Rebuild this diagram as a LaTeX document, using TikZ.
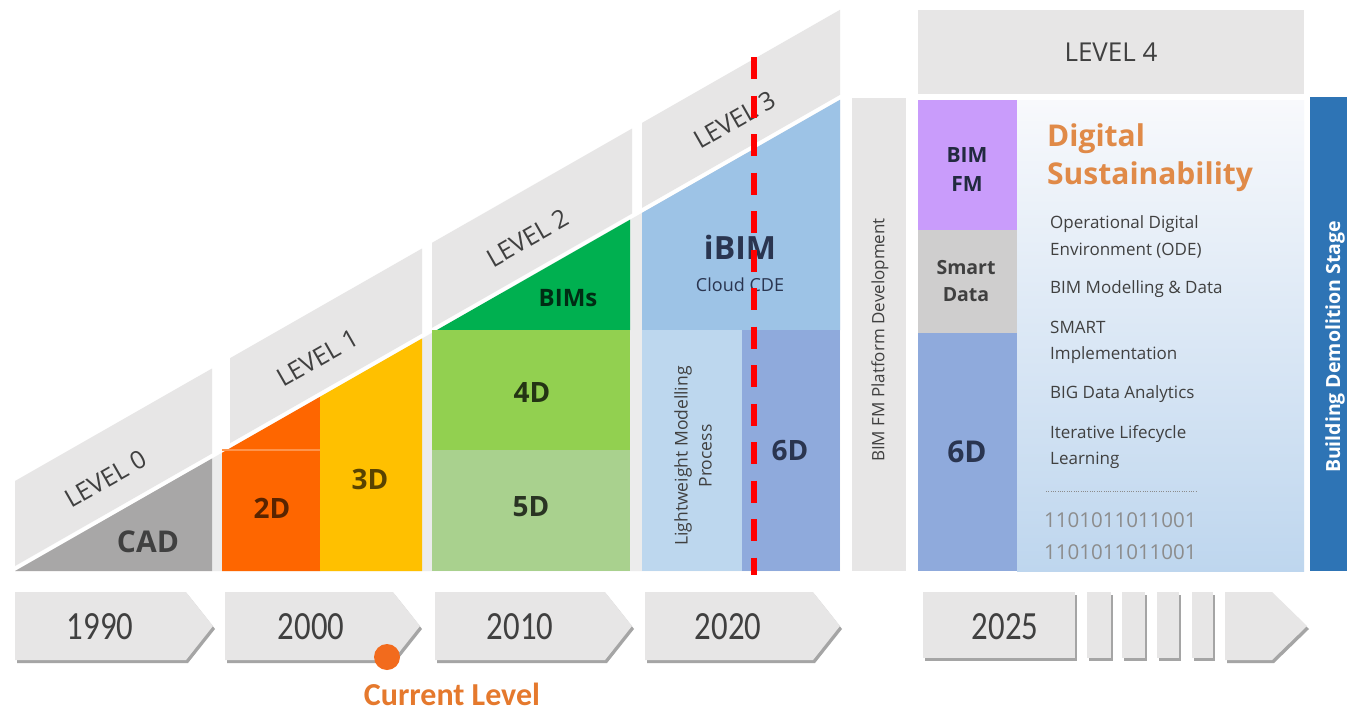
\documentclass[tikz,border=0pt]{standalone}
\usepackage{fontspec}
\setmainfont{Open Sans}
\newfontfamily\yearfont[FakeStretch=0.82]{Carlito}
\newfontfamily\calfont{Carlito}
\definecolor{bandgray}{HTML}{E7E6E6}
\definecolor{bggray}{HTML}{ECECEC}
\definecolor{txtgray}{HTML}{404040}
\definecolor{cadgray}{HTML}{A8A7A7}
\definecolor{orange2d}{HTML}{FE6600}
\definecolor{yellow3d}{HTML}{FFC000}
\definecolor{greenbim}{HTML}{00B050}
\definecolor{green4d}{HTML}{92D050}
\definecolor{green5d}{HTML}{A9D18E}
\definecolor{blueibim}{HTML}{9DC3E6}
\definecolor{bluelight}{HTML}{BDD7EE}
\definecolor{blue6d}{HTML}{8FAADC}
\definecolor{purplefm}{HTML}{C99CFB}
\definecolor{smartgray}{HTML}{CFCECE}
\definecolor{demblue}{HTML}{2E74B5}
\definecolor{digorange}{HTML}{E08A48}
\definecolor{curorange}{HTML}{E5792D}
\definecolor{dotorange}{HTML}{F26B1D}
\definecolor{navytxt}{HTML}{2A3550}
\definecolor{shadowgray}{HTML}{A5A5A5}
\definecolor{bingray}{HTML}{8C8C8C}
\definecolor{panetop}{HTML}{F8F9FC}
\definecolor{panemid}{HTML}{E9F0F8}
\definecolor{panebot}{HTML}{BED6EE}
\begin{document}
\begin{tikzpicture}[x=1pt,y=-1pt,
  lvl/.style={font=\fontsize{25}{29}\selectfont, text=txtgray, rotate=29.7, inner sep=0pt},
  bigbold/.style={font=\bfseries\fontsize{30}{34}\selectfont, inner sep=0pt},
  yearlbl/.style={font=\yearfont\fontsize{40}{44}\selectfont, text=txtgray, inner sep=0pt},
  item/.style={font=\fontsize{17}{20}\selectfont, text=txtgray, anchor=base west, inner sep=0pt},
  binary/.style={font=\fontsize{20.5}{24}\selectfont, text=bingray, anchor=base west, inner sep=0pt},
  chev/.style={fill=bandgray},
  chevshadow/.style={fill=shadowgray}
]
\useasboundingbox (0,0) rectangle (1347,712);
\fill[white] (0,0) rectangle (1347,712);

% ---------- level bands ----------
\fill[bandgray] (15,481) -- (212,368.5) -- (212,453.5) -- (15,566) -- cycle;
\fill[bandgray] (230,358.2) -- (422,248.5) -- (422,333.5) -- (230,443.2) -- cycle;
\fill[bandgray] (432,242.8) -- (632,128.6) -- (632,213.6) -- (432,327.8) -- cycle;
\fill[bandgray] (642,122.9) -- (840,9.8) -- (840,94.8) -- (642,207.9) -- cycle;

% ---------- coloured ramp ----------
\fill[bggray] (212,571) -- (840,571) -- (840,99.8) -- (212,458.5) -- cycle;
\fill[cadgray] (15,571) -- (212,571) -- (212,458.5) -- cycle;
\fill[orange2d] (222,571) -- (320,571) -- (320,396.8) -- (222,452.8) -- cycle;
\draw[orange2d!70!white, line width=1.2pt] (222,450) -- (320,450);
\fill[yellow3d] (320,571) -- (422,571) -- (422,338.5) -- (320,396.8) -- cycle;
\fill[greenbim] (432,330) -- (630,330) -- (630,219.7) -- (432,332.8) -- cycle;
\fill[green4d] (432,330) rectangle (630,450);
\fill[green5d] (432,450) rectangle (630,571);
\fill[blueibim] (642,330) -- (840,330) -- (840,99.8) -- (642,212.9) -- cycle;
\fill[bluelight] (642,330) rectangle (742,571);
\fill[blue6d] (742,330) rectangle (840,571);

% level labels
\node[lvl] (l0) at (106,479) {LEVEL 0};
\node[lvl] (l1) at (318,358) {LEVEL 1};
\node[lvl] (l2) at (528,238) {LEVEL 2};
\node[lvl] (l3) at (735,120) {LEVEL 3};

% block labels
\node[bigbold, text=txtgray] (cad) at (148,542) {CAD};
\node[bigbold, text=orange2d!35!black, font=\bfseries\fontsize{28}{32}\selectfont] (d2) at (272,508) {2D};
\node[bigbold, text=yellow3d!35!black, font=\bfseries\fontsize{28}{32}\selectfont] (d3) at (370,479) {3D};
\node[bigbold, text=greenbim!25!black, font=\bfseries\fontsize{24}{28}\selectfont] (bims) at (568,298) {BIMs};
\node[bigbold, text=green4d!25!black, font=\bfseries\fontsize{28}{32}\selectfont] (d4) at (532,393) {4D};
\node[bigbold, text=green5d!25!black, font=\bfseries\fontsize{28}{32}\selectfont] (d5) at (531,507) {5D};
\node[bigbold, text=navytxt, font=\bfseries\fontsize{32}{36}\selectfont] (ibim) at (740,247) {iBIM};
\node[font=\fontsize{18}{22}\selectfont, text=navytxt, inner sep=0pt] (cde) at (740,285) {Cloud CDE};
\node[font=\fontsize{17.5}{24}\selectfont, text=txtgray, rotate=90, align=center, inner sep=0pt] (lw) at (693,456) {Lightweight Modelling\\Process};
\node[bigbold, text=navytxt, font=\bfseries\fontsize{28}{32}\selectfont] (d6) at (790,451) {6D};

% ---------- BIM FM platform strip ----------
\fill[bandgray] (852,98) rectangle (906,571);
\node[font=\fontsize{17}{20}\selectfont, text=txtgray, rotate=90, inner sep=0pt] (plat) at (880,340) {BIM FM Platform Development};

% ---------- level 4 ----------
\fill[bandgray] (918,10) rectangle (1304,94);
\node[font=\fontsize{26}{30}\selectfont, text=txtgray, inner sep=0pt] (l4) at (1111,52) {LEVEL 4};
\fill[purplefm] (918,100) rectangle (1017,230);
\fill[smartgray] (918,230) rectangle (1017,333);
\fill[blue6d] (918,333) rectangle (1017,571);
\shade[top color=panetop, middle color=panemid, bottom color=panebot] (1017,100) rectangle (1304,571);
\fill[demblue] (1310,97) rectangle (1347,571);

\node[font=\bfseries\fontsize{21}{29}\selectfont, text=navytxt!80!black, align=center, inner sep=0pt] (bimfm) at (967,170) {BIM\\FM};
\node[font=\bfseries\fontsize{19.5}{27}\selectfont, text=txtgray, align=center, inner sep=0pt] (smart) at (966,281) {Smart\\Data};
\node[bigbold, text=navytxt] (d6b) at (967,452) {6D};

\node[font=\bfseries\fontsize{30}{34}\selectfont, text=digorange, anchor=base west, inner sep=0pt] (dig1) at (1047,146) {Digital};
\node[font=\bfseries\fontsize{30}{34}\selectfont, text=digorange, anchor=base west, inner sep=0pt] (dig2) at (1047,184) {Sustainability};
\node[item] (i1) at (1050,228) {Operational Digital};
\node[item] (i2) at (1050,255) {Environment (ODE)};
\node[item] (i3) at (1050,293) {BIM Modelling \& Data};
\node[item] (i4) at (1050,333) {SMART};
\node[item] (i5) at (1050,359) {Implementation};
\node[item] (i6) at (1050,398) {BIG Data Analytics};
\node[item] (i7) at (1050,438) {Iterative Lifecycle};
\node[item] (i8) at (1050,464) {Learning};
\coordinate (dl) at (1046,491);
\coordinate (dr) at (1196,491);
\draw[bingray, line width=1pt, dash pattern=on 1pt off 1.3pt] (dl) -- (dr);
\node[binary] (b1) at (1044,527) {1101011011001};
\node[binary] (b2) at (1044,559) {1101011011001};

\node[font=\bfseries\fontsize{19.5}{22}\selectfont, text=white, rotate=90, inner sep=0pt] (dem) at (1335,347) {Building Demolition Stage};

% ---------- timeline ----------
\foreach \xa/\xb/\xt in {15/186/213, 225/393/420, 435/605/632, 645/813/840, 1225/1272/1307} {
  \fill[chevshadow] (\xa+2,595) -- (\xb+2,595) -- (\xt+2,629) -- (\xb+2,663) -- (\xa+2,663) -- cycle;
  \fill[chev] (\xa,592) -- (\xb,592) -- (\xt,626) -- (\xb,660) -- (\xa,660) -- cycle;
}
\foreach \xa/\xb in {923/1075, 1087/1111, 1122/1145, 1157/1179, 1192/1213} {
  \fill[chevshadow] (\xa+2,595) rectangle (\xb+2,661);
  \fill[chev] (\xa,592) rectangle (\xb,658);
}
\node[yearlbl] (y1990) at (100,627) {1990};
\node[yearlbl] (y2000) at (311,627) {2000};
\node[yearlbl] (y2010) at (520,627) {2010};
\node[yearlbl] (y2020) at (728,627) {2020};
\node[yearlbl] (y2025) at (1005,627) {2025};

\fill[dotorange] (387,657) circle (13);
\node[font=\calfont\bfseries\fontsize{32}{36}\selectfont, text=curorange, inner sep=0pt] (cur) at (452,694) {Current Level};

% ---------- red dashed marker ----------
\coordinate (rtop) at (754,57);
\coordinate (rbot) at (754,575);
\draw[red, line width=5.5pt, dash pattern=on 22pt off 16.5pt] (rtop) -- (rbot);
\end{tikzpicture}
\end{document}
